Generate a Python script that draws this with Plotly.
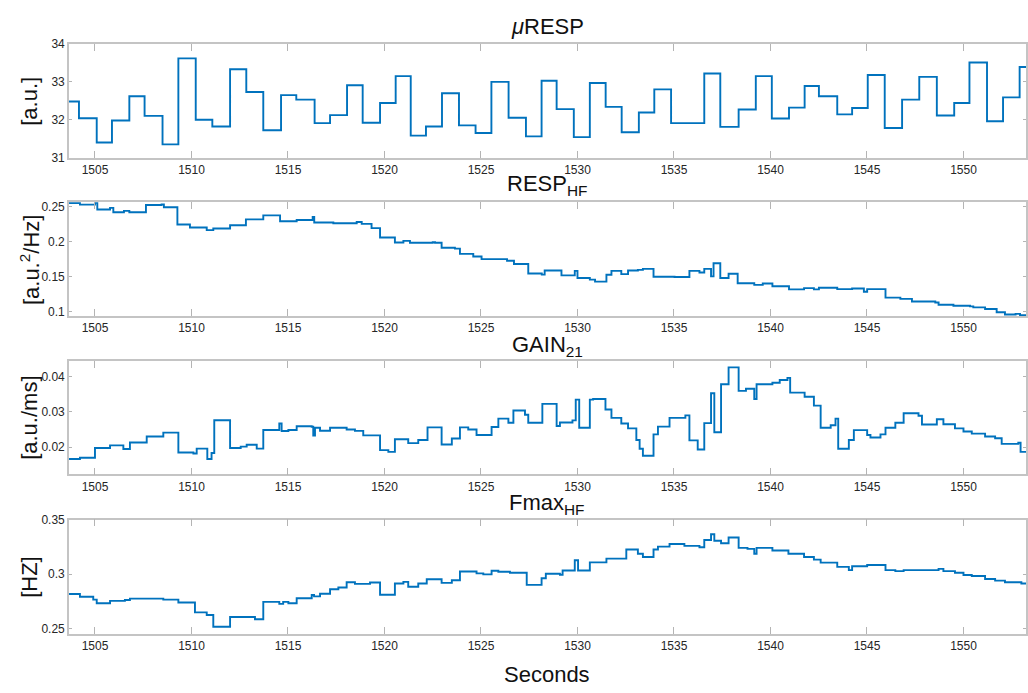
import plotly.graph_objects as go

# ---- data: step-wise time series (time in s, value) ----
resp_t = [1503.65, 1504.17, 1505.09, 1505.88, 1506.78, 1507.57, 1508.50, 1509.32, 1510.22, 1511.08,
          1512.00, 1512.84, 1513.72, 1514.64, 1515.43, 1516.38, 1517.18, 1518.06, 1518.87, 1519.77,
          1520.58, 1521.36, 1522.15, 1522.98, 1523.86, 1524.72, 1525.54, 1526.43, 1527.33, 1528.14,
          1528.92, 1529.81, 1530.64, 1531.46, 1532.29, 1533.18, 1533.98, 1534.85, 1536.57, 1537.40,
          1538.35, 1539.24, 1540.07, 1540.96, 1541.77, 1542.51, 1543.46, 1544.23, 1545.04, 1545.92,
          1546.82, 1547.71, 1548.62, 1549.52, 1550.31, 1551.22, 1552.05, 1552.91, 1553.30]
resp_v = [32.48, 32.04, 31.40, 31.98, 32.62, 32.10, 31.35, 33.62, 32.00, 31.82,
          33.33, 32.73, 31.72, 32.65, 32.53, 31.91, 32.12, 32.91, 31.92, 32.44,
          33.15, 31.58, 31.82, 32.70, 31.85, 31.65, 33.00, 32.05, 31.56, 33.03,
          32.28, 31.54, 32.97, 32.34, 31.67, 32.19, 32.80, 31.91, 33.22, 31.81,
          32.27, 33.15, 32.03, 32.32, 32.89, 32.62, 32.14, 32.31, 33.18, 31.78,
          32.53, 33.13, 32.11, 32.44, 33.51, 31.96, 32.59, 33.39, 33.39]

hf_t = [1503.65, 1504.22, 1505.00, 1505.12, 1505.78, 1505.95, 1506.50, 1506.78, 1507.64, 1508.45,
        1508.57, 1509.27, 1509.92, 1510.79, 1511.13, 1512.00, 1512.82, 1513.72, 1514.59, 1515.45,
        1516.28, 1516.36, 1517.35, 1518.56, 1518.82, 1519.33, 1519.77, 1520.54, 1520.98, 1521.32,
        1522.50, 1522.62, 1522.96, 1523.65, 1523.91, 1524.60, 1525.03, 1526.35, 1526.71, 1527.45,
        1528.15, 1528.30, 1529.17, 1529.86, 1530.00, 1530.64, 1530.91, 1531.50, 1531.76, 1532.27,
        1532.62, 1533.13, 1533.39, 1533.94, 1535.03, 1535.80, 1536.32, 1536.57, 1536.92, 1537.05,
        1537.40, 1537.83, 1538.30, 1539.16, 1539.60, 1540.10, 1540.96, 1541.74, 1542.25, 1542.51,
        1543.46, 1544.23, 1544.84, 1545.01, 1545.96, 1546.73, 1547.33, 1548.54, 1548.71, 1549.48,
        1550.34, 1550.51, 1551.12, 1551.72, 1552.15, 1552.70, 1552.93, 1553.30]
hf_v = [0.2556, 0.2533, 0.2561, 0.2463, 0.2486, 0.2425, 0.2444, 0.2425, 0.2528, 0.2537,
        0.2495, 0.2248, 0.2206, 0.2168, 0.2192, 0.2238, 0.2322, 0.2379, 0.2294, 0.2313,
        0.2355, 0.2276, 0.2266, 0.2285, 0.2257, 0.2196, 0.2061, 0.1991, 0.2014, 0.1986,
        0.1995, 0.1986, 0.1916, 0.1902, 0.1827, 0.1790, 0.1752, 0.1729, 0.1682, 0.1547,
        0.1530, 0.1589, 0.1519, 0.1584, 0.1481, 0.1458, 0.1430, 0.1528, 0.1584, 0.1537,
        0.1589, 0.1598, 0.1612, 0.1500, 0.1495, 0.1584, 0.1561, 0.1612, 0.1505, 0.1692,
        0.1481, 0.1542, 0.1407, 0.1383, 0.1402, 0.1364, 0.1318, 0.1336, 0.1318, 0.1341,
        0.1322, 0.1332, 0.1285, 0.1322, 0.1201, 0.1182, 0.1145, 0.1131, 0.1098, 0.1084,
        0.1075, 0.1061, 0.1037, 0.0991, 0.0958, 0.0967, 0.0949, 0.0949]

gain_t = [1503.65, 1504.22, 1505.00, 1505.78, 1506.47, 1506.81, 1507.68, 1508.54, 1509.32, 1510.10,
          1510.27, 1510.82, 1511.04, 1511.18, 1512.00, 1512.55, 1512.86, 1513.38, 1513.72, 1514.55,
          1514.67, 1515.02, 1515.45, 1516.23, 1516.31, 1516.40, 1516.66, 1517.18, 1518.04, 1518.47,
          1518.90, 1519.77, 1520.20, 1520.54, 1521.23, 1521.75, 1522.23, 1522.96, 1523.49, 1523.91,
          1524.34, 1524.77, 1525.55, 1525.90, 1526.42, 1526.68, 1527.28, 1527.45, 1528.18, 1528.92,
          1529.09, 1529.74, 1529.91, 1530.09, 1530.64, 1530.81, 1531.45, 1531.76, 1532.27, 1532.62,
          1533.05, 1533.22, 1533.39, 1533.94, 1534.17, 1534.77, 1535.59, 1535.80, 1536.23, 1536.57,
          1536.92, 1537.09, 1537.44, 1537.83, 1538.35, 1538.73, 1539.16, 1539.28, 1540.10, 1540.48,
          1540.88, 1541.02, 1541.77, 1542.25, 1542.60, 1543.12, 1543.37, 1543.51, 1544.06, 1544.32,
          1545.01, 1545.18, 1545.70, 1545.96, 1546.47, 1546.90, 1547.67, 1547.85, 1548.62, 1548.96,
          1549.56, 1550.00, 1550.43, 1551.12, 1551.64, 1551.98, 1552.84, 1552.96, 1553.30]
gain_v = [0.01656, 0.01693, 0.01972, 0.02047, 0.01944, 0.02130, 0.02300, 0.02410, 0.01842, 0.01814,
          0.01953, 0.01656, 0.01830, 0.02763, 0.01972, 0.02010, 0.02065, 0.01953, 0.02484, 0.02670,
          0.02456, 0.02484, 0.02590, 0.02577, 0.02326, 0.02550, 0.02465, 0.02550, 0.02500, 0.02460,
          0.02330, 0.01910, 0.01860, 0.02220, 0.02110, 0.02200, 0.02560, 0.02070, 0.02240, 0.02560,
          0.02500, 0.02340, 0.02570, 0.02810, 0.02690, 0.03040, 0.02920, 0.02690, 0.03230, 0.02600,
          0.02700, 0.02760, 0.03350, 0.02550, 0.03350, 0.03370, 0.03070, 0.02830, 0.02670, 0.02530,
          0.02200, 0.01950, 0.01750, 0.02360, 0.02580, 0.02830, 0.02900, 0.02190, 0.01930, 0.02680,
          0.03530, 0.02420, 0.03790, 0.04270, 0.03600, 0.03660, 0.03370, 0.03790, 0.03830, 0.03910,
          0.03970, 0.03550, 0.03430, 0.03180, 0.02550, 0.02620, 0.02810, 0.01950, 0.02200, 0.02480,
          0.02340, 0.02270, 0.02360, 0.02550, 0.02690, 0.02960, 0.02890, 0.02640, 0.02790, 0.02650,
          0.02530, 0.02440, 0.02380, 0.02300, 0.02250, 0.02090, 0.02120, 0.01860, 0.01860]

fmax_t = [1503.65, 1504.22, 1504.91, 1505.09, 1505.78, 1506.55, 1506.81, 1508.54, 1509.32, 1510.18,
          1510.79, 1511.13, 1512.00, 1513.29, 1513.72, 1514.55, 1514.75, 1515.02, 1515.45, 1516.23,
          1516.35, 1516.66, 1517.18, 1517.61, 1518.04, 1518.47, 1519.25, 1519.77, 1520.54, 1520.98,
          1521.23, 1521.75, 1522.19, 1522.96, 1523.49, 1523.91, 1524.77, 1525.12, 1525.55, 1525.90,
          1526.50, 1527.37, 1528.14, 1528.36, 1529.09, 1529.23, 1529.86, 1530.03, 1530.64, 1531.50,
          1532.53, 1533.13, 1533.39, 1533.94, 1534.17, 1534.77, 1535.54, 1536.32, 1536.57, 1536.92,
          1537.09, 1537.44, 1537.83, 1538.35, 1538.81, 1539.16, 1539.28, 1540.10, 1540.93, 1541.74,
          1542.25, 1542.60, 1543.46, 1544.06, 1544.23, 1545.01, 1545.96, 1546.47, 1546.90, 1548.71,
          1548.96, 1549.56, 1550.00, 1550.43, 1551.12, 1551.64, 1552.15, 1553.00, 1553.30]
fmax_v = [0.2816, 0.2792, 0.2765, 0.2732, 0.2753, 0.2762, 0.2774, 0.2765, 0.2738, 0.2648,
          0.2623, 0.2515, 0.2605, 0.2584, 0.2744, 0.2726, 0.2744, 0.2732, 0.2777, 0.2807,
          0.2795, 0.2819, 0.2861, 0.2876, 0.2925, 0.2910, 0.2922, 0.2810, 0.2913, 0.2928,
          0.2883, 0.2913, 0.2952, 0.2919, 0.2943, 0.3024, 0.3006, 0.2997, 0.3030, 0.3021,
          0.3012, 0.2901, 0.2961, 0.3003, 0.2994, 0.3033, 0.3127, 0.3033, 0.3108, 0.3142,
          0.3226, 0.3187, 0.3157, 0.3226, 0.3253, 0.3277, 0.3259, 0.3247, 0.3313, 0.3367,
          0.3307, 0.3283, 0.3337, 0.3241, 0.3232, 0.3187, 0.3241, 0.3217, 0.3187, 0.3157,
          0.3133, 0.3105, 0.3066, 0.3036, 0.3072, 0.3084, 0.3036, 0.3027, 0.3036, 0.3048,
          0.3027, 0.3012, 0.2991, 0.2982, 0.2955, 0.2940, 0.2925, 0.2913, 0.2913]

# ---- axes annotation content ----
x_ticks = [1505, 1510, 1515, 1520, 1525, 1530, 1535, 1540, 1545, 1550]
x_range = [1503.65, 1553.24]

panel_titles = ["<i>\u03bc</i>RESP", "RESP<sub>HF</sub>", "GAIN<sub>21</sub>", "Fmax<sub>HF</sub>"]
panel_units = ["[a.u.]", "[a.u.<sup>2</sup>/Hz]", "[a.u./ms]", "[HZ]"]
y_ticks = [[31, 32, 33, 34], [0.1, 0.15, 0.2, 0.25], [0.02, 0.03, 0.04], [0.25, 0.3, 0.35]]
y_ticktext = [["31", "32", "33", "34"], ["0.1", "0.15", "0.2", "0.25"],
              ["0.02", "0.03", "0.04"], ["0.25", "0.3", "0.35"]]
y_ranges = [[31, 34], [0.0938, 0.2567], [0.0122, 0.0444], [0.2448, 0.35]]
series = [(resp_t, resp_v), (hf_t, hf_v), (gain_t, gain_v), (fmax_t, fmax_v)]

# ---- layout geometry (pixels, figure 1028 x 693) ----
W, H = 1028, 693
left_px, right_px = 69, 1027
panel_px = [(37.7, 153.7), (199.3, 315.3), (361.7, 477.0), (523.3, 640.0)]
title_px = [20, 182, 345.5, 507]

LINE = "#0072BD"
AXIS = "#c4c4c4"
TXT = "#262626"
FONT = "Liberation Sans, Arial, Helvetica, sans-serif"

fig = go.Figure()
layout = dict(
    width=W, height=H, margin=dict(l=0, r=0, t=0, b=0),
    paper_bgcolor="white", plot_bgcolor="white", showlegend=False,
    font=dict(family=FONT, color=TXT, size=12),
)
annotations = []
for i, ((t, v), (top, bot)) in enumerate(zip(series, panel_px)):
    n = "" if i == 0 else str(i + 1)
    fig.add_trace(go.Scatter(x=t, y=v, mode="lines", line=dict(color=LINE, width=1.9, shape="hv"),
                             xaxis="x" + n, yaxis="y" + n, hoverinfo="skip"))
    layout["xaxis" + n] = dict(
        domain=[left_px / W, right_px / W], anchor="y" + n, range=x_range,
        tickmode="array", tickvals=x_ticks, ticks="inside", ticklen=7, tickcolor="#b4b4b4",
        tickwidth=1, showline=True, linecolor=AXIS, linewidth=1.5, mirror="ticks",
        showgrid=False, zeroline=False, tickfont=dict(size=12, color=TXT),
    )
    layout["yaxis" + n] = dict(
        domain=[1 - bot / H, 1 - top / H], anchor="x" + n, range=y_ranges[i],
        tickmode="array", tickvals=y_ticks[i], ticktext=y_ticktext[i], ticks="inside",
        ticklen=3, tickcolor="#b4b4b4", tickwidth=1, showline=True, linecolor=AXIS,
        linewidth=1.5, mirror="ticks", showgrid=False, zeroline=False,
        tickfont=dict(size=12, color=TXT),
    )
    annotations.append(dict(text=panel_titles[i], x=(left_px + right_px) / 2 / W,
                            y=1 - title_px[i] / H, xref="paper", yref="paper",
                            showarrow=False, xanchor="center", yanchor="middle",
                            font=dict(size=22, color="#111111")))
    annotations.append(dict(text=panel_units[i], x=30 / W, y=1 - (top + bot) / 2 / H,
                            xref="paper", yref="paper", showarrow=False, textangle=-90,
                            xanchor="center", yanchor="middle",
                            font=dict(size=22, color="#111111")))

annotations.append(dict(text="Seconds", x=(left_px + right_px) / 2 / W, y=1 - 681 / H,
                        xref="paper", yref="paper", showarrow=False,
                        xanchor="center", yanchor="middle", font=dict(size=22, color="#111111")))
layout["annotations"] = annotations
fig.update_layout(**layout)
fig.write_html("out.html")
